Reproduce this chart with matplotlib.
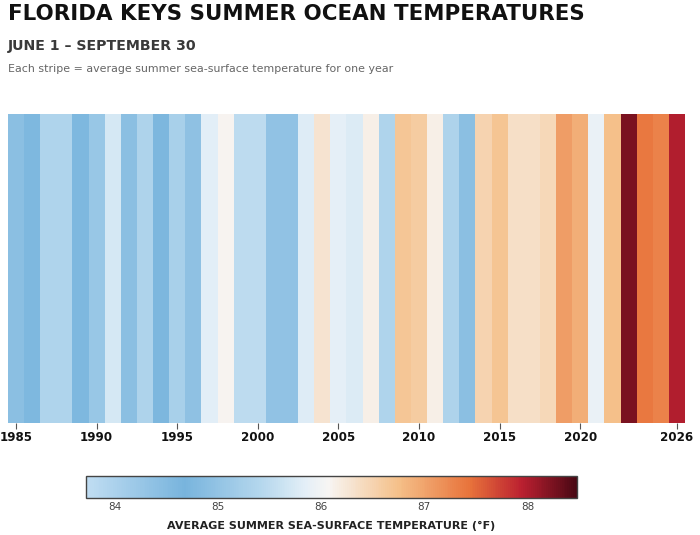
import matplotlib
matplotlib.use("Agg")
import matplotlib.pyplot as plt
import numpy as np
from matplotlib.colors import LinearSegmentedColormap, Normalize
from matplotlib.cm import ScalarMappable

years = list(range(1985, 2027))
temps = [84.90, 84.76, 85.35, 85.35, 84.76, 85.06, 85.72, 84.91, 85.32, 84.74,
         85.25, 84.96, 85.83, 86.10, 85.49, 85.49, 84.97, 84.97, 85.79, 86.30,
         85.87, 85.78, 86.15, 85.35, 86.67, 86.60, 86.15, 85.32, 84.91, 86.50,
         86.68, 86.35, 86.35, 86.45, 87.05, 86.90, 85.92, 86.75, 88.25, 87.40,
         87.30, 87.98]
tick_years = [1985, 1990, 1995, 2000, 2005, 2010, 2015, 2020, 2026]
cbar_ticks = [84, 85, 86, 87, 88]

vmin, vmax = 83.72, 88.48
node_vals = [83.72, 84.67, 85.45, 85.85, 86.07, 86.75, 87.44, 87.95, 88.48]
node_cols = ["#c0ddf2", "#78b4dd", "#b8d9ee", "#e4eff7", "#f7f5f3",
             "#f5c089", "#e8733b", "#bb2030", "#4a0814"]
pos = [(v - vmin) / (vmax - vmin) for v in node_vals]
cmap = LinearSegmentedColormap.from_list("keys", list(zip(pos, node_cols)))
norm = Normalize(vmin=vmin, vmax=vmax)

fig = plt.figure(figsize=(7.0, 5.35), dpi=100)

fig.text(8/700, 1-14/535, "FLORIDA KEYS SUMMER OCEAN TEMPERATURES", fontsize=15.4,
         fontweight="bold", color="#111111", ha="left", va="center")
fig.text(8/700, 1-46/535, "JUNE 1 \u2013 SEPTEMBER 30", fontsize=10.2,
         fontweight="bold", color="#3a3a3a", ha="left", va="center")
fig.text(8/700, 1-69/535, "Each stripe = average summer sea-surface temperature for one year",
         fontsize=7.9, color="#666666", ha="left", va="center")

ax = fig.add_axes([8/700, 1-423/535, 677/700, 309/535])
ax.bar(years, [1]*len(years), width=1.0, bottom=0, color=cmap(norm(np.array(temps))),
       linewidth=0)
ax.set_xlim(years[0]-0.5, years[-1]+0.5)
ax.set_ylim(0, 1)
ax.set_yticks([])
ax.set_xticks(tick_years)
ax.set_xticklabels([str(y) for y in tick_years], fontsize=8.6, fontweight="bold", color="#111111")
ax.tick_params(axis="x", length=4, width=0.8, color="#555555", pad=2)
for s in ax.spines.values():
    s.set_visible(False)

cax = fig.add_axes([86/700, 1-498/535, 491/700, 22/535])
sm = ScalarMappable(norm=norm, cmap=cmap)
cb = fig.colorbar(sm, cax=cax, orientation="horizontal", ticks=cbar_ticks)
cb.outline.set_edgecolor("#444444")
cb.outline.set_linewidth(1.0)
cax.tick_params(length=0, labelsize=7.5, labelcolor="#444444", pad=3)
cb.set_label("AVERAGE SUMMER SEA-SURFACE TEMPERATURE (\u00b0F)", fontsize=8,
             fontweight="bold", color="#222222", labelpad=6)

fig.savefig("out.png", dpi=100)
